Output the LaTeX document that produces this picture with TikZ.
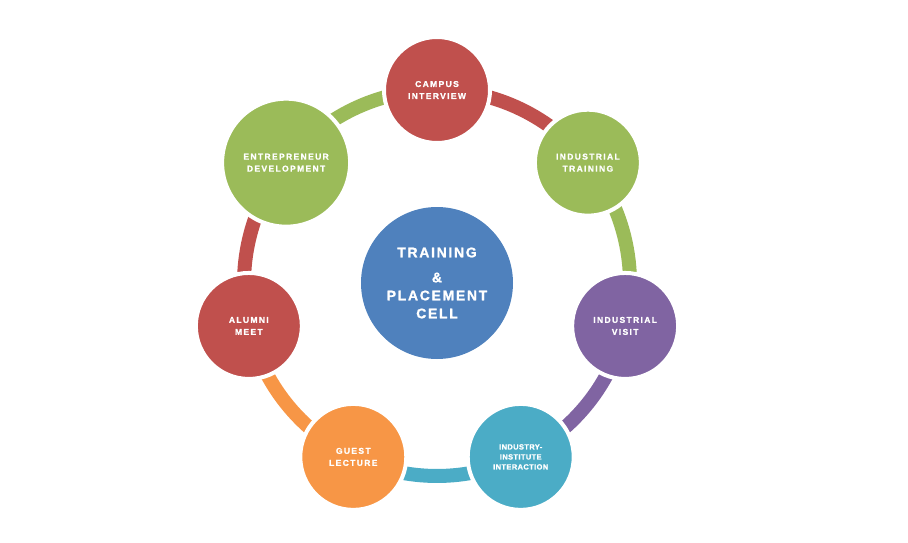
\documentclass[tikz,border=0pt]{standalone}
\usepackage{fontspec}
\setmainfont{Liberation Sans}
\newfontfamily\spacedfont[LetterSpace=16, BoldFeatures={FakeBold=1.2}]{Liberation Sans}
\newfontfamily\hubfont[LetterSpace=12, BoldFeatures={FakeBold=1.2}]{Liberation Sans}
\newfontfamily\tightfont[LetterSpace=5, BoldFeatures={FakeBold=1.2}]{Liberation Sans}
\usetikzlibrary{backgrounds}
\definecolor{cellred}{HTML}{C0504D}
\definecolor{cellgreen}{HTML}{9BBB59}
\definecolor{cellpurple}{HTML}{8064A2}
\definecolor{cellteal}{HTML}{4BACC6}
\definecolor{cellorange}{HTML}{F79646}
\definecolor{cellblue}{HTML}{4F81BD}
\tikzset{
 bubble/.style={circle, draw=white, line width=4pt, minimum size=106pt, inner sep=0pt,
  text=white, align=center, font=\spacedfont\bfseries\fontsize{8.5}{12}\selectfont},
 bigbubble/.style={bubble, minimum size=128pt},
 hubnode/.style={circle, minimum size=152pt, inner sep=0pt, fill=cellblue,
  text=white, align=center, font=\hubfont\bfseries\fontsize{14}{18}\selectfont},
 ring/.style={line width=14pt},
}

\begin{document}
\begin{tikzpicture}[x=1pt, y=-1pt]
    \useasboundingbox (0,0) rectangle (908,543);
    \node[hubnode] (hub) at (437,283) {TRAINING\\[7pt]\&\\PLACEMENT\\CELL};

    \node[bubble, fill=cellred] (campus) at ([shift={(-90:193)}]hub.center) {CAMPUS\\INTERVIEW};
    \node[bubble, fill=cellgreen] (training) at ([shift={(-38.57:193)}]hub.center) {INDUSTRIAL\\TRAINING};
    \node[bubble, fill=cellpurple] (visit) at ([shift={(12.86:193)}]hub.center) {INDUSTRIAL\\VISIT};
    \node[bubble, fill=cellteal, font=\tightfont\bfseries\fontsize{7.5}{10}\selectfont]
        (interaction) at ([shift={(64.29:193)}]hub.center) {INDUSTRY-\\INSTITUTE\\INTERACTION};
    \node[bubble, fill=cellorange] (guest) at ([shift={(115.71:193)}]hub.center) {GUEST\\LECTURE};
    \node[bubble, fill=cellred] (alumni) at ([shift={(167.14:193)}]hub.center) {ALUMNI\\MEET};
    \node[bigbubble, fill=cellgreen] (entre) at ([shift={(218.57:193)}]hub.center) {ENTREPRENEUR\\DEVELOPMENT};

    % ring pieces between the bubbles
    \begin{scope}[on background layer]
        \foreach \from/\c [count=\i from 0] in {campus/cellred, training/cellgreen, visit/cellpurple,
                interaction/cellteal, guest/cellorange, alumni/cellred, entre/cellgreen} {
            \draw[ring, \c] (\from.center) arc[start angle=-90+\i*51.43, delta angle=51.43, radius=193];
        }
    \end{scope}
\end{tikzpicture}
\end{document}
